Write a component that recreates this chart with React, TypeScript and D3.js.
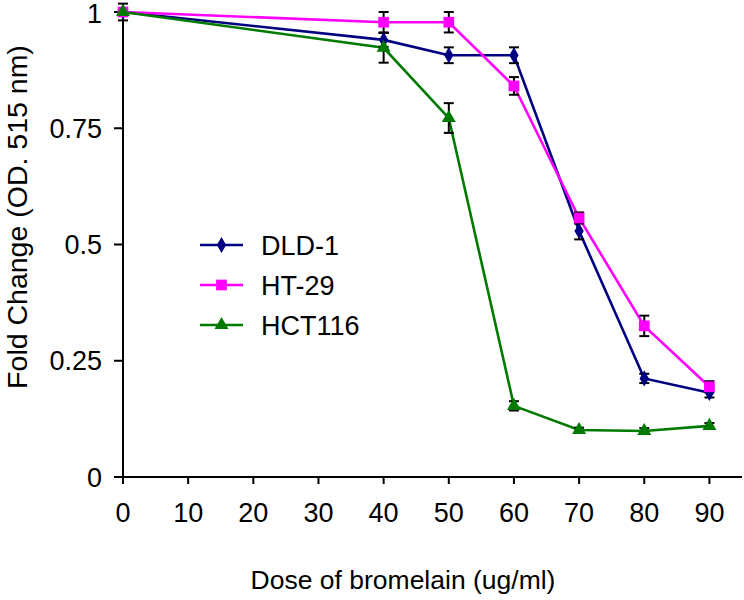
import React from 'react';
import * as d3 from 'd3';

// Dose (ug/ml) on x, fold change on y
const doses = [0, 40, 50, 60, 70, 80, 90];

const dld1 = [1.0, 0.94, 0.907, 0.907, 0.529, 0.212, 0.181];
const dld1Err = [0.018, 0.015, 0.017, 0.017, 0.018, 0.01, 0.01];

const ht29 = [1.0, 0.978, 0.978, 0.841, 0.557, 0.325, 0.194];
const ht29Err = [0.005, 0.022, 0.022, 0.019, 0.012, 0.022, 0.012];

const hct116 = [1.0, 0.923, 0.772, 0.153, 0.101, 0.099, 0.11];
const hct116Err = [0.005, 0.032, 0.032, 0.01, 0.005, 0.006, 0.006];

const xTicks = [0, 10, 20, 30, 40, 50, 60, 70, 80, 90];
const yTicks = [0, 0.25, 0.5, 0.75, 1];
const yTickLabels = ['0', '0.25', '0.5', '0.75', '1'];

const seriesNames = ['DLD-1', 'HT-29', 'HCT116'];

const FONT = 'Liberation Sans, Arial, sans-serif';

export default function App() {
  const width = 744;
  const height = 600;

  const x = d3.scaleLinear().domain([0, 95]).range([123, 742]);
  const y = d3.scaleLinear().domain([0, 1]).range([477, 12]);

  const series = [
    { name: seriesNames[0], values: dld1, err: dld1Err, color: '#000080', symbol: d3.symbolDiamond, size: 75 },
    { name: seriesNames[1], values: ht29, err: ht29Err, color: '#ff00ff', symbol: d3.symbolSquare, size: 115 },
    { name: seriesNames[2], values: hct116, err: hct116Err, color: '#007a00', symbol: d3.symbolTriangle, size: 85 },
  ];

  const line = d3
    .line<number>()
    .x((d, i) => x(doses[i]))
    .y((d) => y(d));

  const capW = 5;

  return (
    <svg
      width={width}
      height={height}
      style={{ position: 'absolute', left: 0, top: 0, background: '#fff' }}
      fontFamily={FONT}
    >
      {/* axes */}
      <line x1={x(0)} x2={x(0)} y1={y(1)} y2={y(0) + 7} stroke="#000" strokeWidth={2} />
      <line x1={x(0) - 9} x2={742} y1={y(0)} y2={y(0)} stroke="#000" strokeWidth={2} />

      {yTicks.map((t, i) => (
        <g key={'yt' + t}>
          <line x1={x(0) - 9} x2={x(0)} y1={y(t)} y2={y(t)} stroke="#000" strokeWidth={2} />
          <text x={102} y={y(t)} dy={t === 1 ? '0.42em' : '0.36em'} textAnchor="end" fontSize={27} fill="#000">
            {yTickLabels[i]}
          </text>
        </g>
      ))}

      {xTicks.map((t) => (
        <g key={'xt' + t}>
          <line x1={x(t)} x2={x(t)} y1={y(0)} y2={y(0) + 7} stroke="#000" strokeWidth={2} />
          <text x={x(t)} y={522} textAnchor="middle" fontSize={27} fill="#000">
            {t}
          </text>
        </g>
      ))}

      {/* axis titles */}
      <text x={403} y={589} textAnchor="middle" fontSize={26.5} fill="#000">
        Dose of bromelain (ug/ml)
      </text>
      <text
        transform={`translate(27, 217) rotate(-90)`}
        textAnchor="middle"
        fontSize={28.5}
        fill="#000"
      >
        Fold Change (OD. 515 nm)
      </text>

      {/* lines */}
      {series.map((s) => (
        <path key={'l' + s.name} d={line(s.values) || ''} fill="none" stroke={s.color} strokeWidth={2.6} />
      ))}

      {/* error bars */}
      {series.map((s) =>
        s.values.map((v, i) => {
          const cx = x(doses[i]);
          const top = y(v + s.err[i]);
          const bot = y(v - s.err[i]);
          return (
            <g key={'e' + s.name + i} stroke="#000" strokeWidth={2}>
              <line x1={cx} x2={cx} y1={top} y2={bot} />
              <line x1={cx - capW} x2={cx + capW} y1={top} y2={top} />
              <line x1={cx - capW} x2={cx + capW} y1={bot} y2={bot} />
            </g>
          );
        })
      )}

      {/* markers */}
      {series.map((s) =>
        s.values.map((v, i) => (
          <path
            key={'m' + s.name + i}
            d={d3.symbol().type(s.symbol).size(s.size)() || ''}
            transform={`translate(${x(doses[i])}, ${y(v)})`}
            fill={s.color}
          />
        ))
      )}

      {/* legend */}
      {series.map((s, i) => {
        const ly = 245 + i * 40;
        return (
          <g key={'lg' + s.name}>
            <line x1={200} x2={243} y1={ly} y2={ly} stroke={s.color} strokeWidth={2.6} />
            <path
              d={d3.symbol().type(s.symbol).size(s.size)() || ''}
              transform={`translate(221.5, ${ly})`}
              fill={s.color}
            />
            <text x={261} y={ly} dy="0.36em" fontSize={27} fill="#000">
              {s.name}
            </text>
          </g>
        );
      })}
    </svg>
  );
}
